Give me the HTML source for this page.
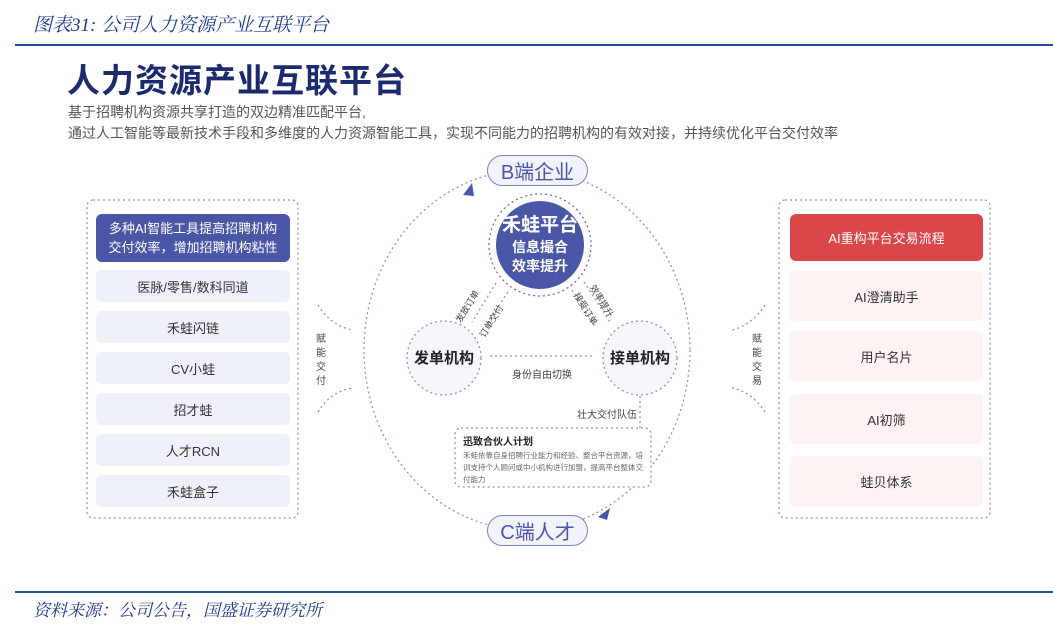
<!DOCTYPE html>
<html><head><meta charset="utf-8"><style>
*{margin:0;padding:0;box-sizing:border-box}
body{width:1053px;height:631px;background:#fff;position:relative;overflow:hidden;font-family:"Liberation Sans","Noto Sans CJK SC",sans-serif}
.a{position:absolute}
.c{display:flex;align-items:center;justify-content:center;text-align:center}
.it{position:absolute;left:96px;width:194px;height:32px;background:#eff1fa;border-radius:5px;font-size:13px;color:#333}
.rt{position:absolute;left:790px;width:193px;height:50px;background:#fdf3f3;border-radius:5px;font-size:13px;color:#333}
</style></head><body>
<div class="a" style="left:33px;top:10px;font-size:19px;font-style:italic;color:#1f3a8a;font-family:'Liberation Serif','Noto Serif CJK SC',serif">图表31:&nbsp;公司人力资源产业互联平台</div>
<div class="a" style="left:15px;top:44px;width:1038px;height:2px;background:#1f4fa0"></div>
<div class="a" style="left:67px;top:54px;font-size:33px;font-weight:bold;color:#1e2a6e;letter-spacing:1px">人力资源产业互联平台</div>
<div class="a" style="left:68px;top:102px;font-size:14px;color:#555;line-height:21px">基于招聘机构资源共享打造的双边精准匹配平台,<br>通过人工智能等最新技术手段和多维度的人力资源智能工具，实现不同能力的招聘机构的有效对接，并持续优化平台交付效率</div>

<svg class="a" style="left:0;top:0" width="1053" height="631">
<g fill="none" stroke="#8e94c6" stroke-width="1.3" stroke-dasharray="2 3">
<rect x="87" y="200" width="211" height="318" rx="6"/>
<rect x="779" y="200" width="211" height="318" rx="6"/>
<ellipse cx="527" cy="350" rx="163" ry="180"/>
<circle cx="540" cy="245" r="51" stroke="#6a71b3"/>
<circle cx="444" cy="358" r="37" fill="#f6f7fd"/>
<circle cx="640" cy="358" r="37" fill="#f6f7fd"/>
<rect x="455" y="428" width="196" height="59" rx="6" fill="#fff"/>
<line x1="490" y1="356" x2="592" y2="356"/>
<line x1="640" y1="396" x2="640" y2="428"/>
<line x1="496" y1="283" x2="472" y2="322"/>
<line x1="508" y1="292" x2="486" y2="326"/>
<line x1="584" y1="282" x2="610" y2="322"/>
<line x1="572" y1="290" x2="596" y2="328"/>
<path d="M318 305 Q330 325 352 330"/>
<path d="M318 412 Q330 392 352 388"/>
<path d="M765 305 Q752 325 732 330"/>
<path d="M765 412 Q752 392 732 388"/>
</g>
<circle cx="540" cy="245" r="44" fill="#4a56a6"/>
<polygon points="463,195 472,183 474,196" fill="#4a56a6"/>
<polygon points="598,517 610,508 607,520" fill="#4a56a6"/>
</svg>

<div class="a c" style="left:487px;top:155px;width:101px;height:31px;border:1.3px solid #7c83bd;border-radius:16px;background:#f1f2fa;color:#4a56a6;font-size:20px">B端企业</div>
<div class="a c" style="left:487px;top:515px;width:101px;height:31px;border:1.3px solid #7c83bd;border-radius:16px;background:#f1f2fa;color:#4a56a6;font-size:20px">C端人才</div>
<div class="a c" style="left:496px;top:213px;width:88px;flex-direction:column;color:#fff;font-weight:bold;line-height:19px">
<div style="font-size:19px;line-height:25px">禾蛙平台</div><div style="font-size:14px">信息撮合</div><div style="font-size:14px">效率提升</div></div>
<div class="a c" style="left:407px;top:347px;width:74px;font-size:15px;font-weight:bold;color:#222">发单机构</div>
<div class="a c" style="left:603px;top:347px;width:74px;font-size:15px;font-weight:bold;color:#222">接单机构</div>
<div class="a" style="left:512px;top:366px;font-size:10px;color:#444">身份自由切换</div>
<div class="a" style="left:452px;top:318px;font-size:9px;color:#444;transform:rotate(-58deg);transform-origin:left top">发放订单</div>
<div class="a" style="left:476px;top:333px;font-size:9px;color:#444;transform:rotate(-58deg);transform-origin:left top">订单交付</div>
<div class="a" style="left:598px;top:282px;font-size:9px;color:#444;transform:rotate(58deg);transform-origin:left top">效率提升</div>
<div class="a" style="left:582px;top:290px;font-size:9px;color:#444;transform:rotate(58deg);transform-origin:left top">接受订单</div>
<div class="a" style="left:577px;top:406px;font-size:10px;color:#444">壮大交付队伍</div>
<div class="a" style="left:463px;top:433px;width:182px">
<div style="font-size:10px;font-weight:bold;color:#222">迅致合伙人计划</div>
<div style="font-size:7.5px;color:#666;line-height:12px;margin-top:2px">禾蛙依靠自身招聘行业能力和经验、整合平台资源，培训支持个人顾问或中小机构进行加盟，提高平台整体交付能力</div></div>
<div class="a" style="left:316px;top:333px;width:12px;font-size:10px;color:#444;line-height:14px">赋能交付</div>
<div class="a" style="left:752px;top:333px;width:12px;font-size:10px;color:#444;line-height:14px">赋能交易</div>

<div class="a c" style="left:96px;top:214px;width:194px;height:48px;background:#4a56a6;border-radius:6px;color:#fff;font-size:13px;line-height:19px">多种AI智能工具提高招聘机构<br>交付效率，增加招聘机构粘性</div>
<div class="it c" style="top:270px">医脉/零售/数科同道</div>
<div class="it c" style="top:311px">禾蛙闪链</div>
<div class="it c" style="top:352px">CV小蛙</div>
<div class="it c" style="top:393px">招才蛙</div>
<div class="it c" style="top:434px">人才RCN</div>
<div class="it c" style="top:475px">禾蛙盒子</div>

<div class="a c" style="left:790px;top:214px;width:193px;height:47px;background:#d9474a;border-radius:6px;color:#fff;font-size:13px">AI重构平台交易流程</div>
<div class="rt c" style="top:271px">AI澄清助手</div>
<div class="rt c" style="top:331px">用户名片</div>
<div class="rt c" style="top:394px">AI初筛</div>
<div class="rt c" style="top:456px">蛙贝体系</div>

<div class="a" style="left:15px;top:591px;width:1038px;height:2px;background:#1f4fa0"></div>
<div class="a" style="left:33px;top:596px;font-size:17px;font-style:italic;color:#1f3a8a;font-family:'Liberation Serif','Noto Serif CJK SC',serif">资料来源：公司公告，国盛证券研究所</div>
</body></html>
